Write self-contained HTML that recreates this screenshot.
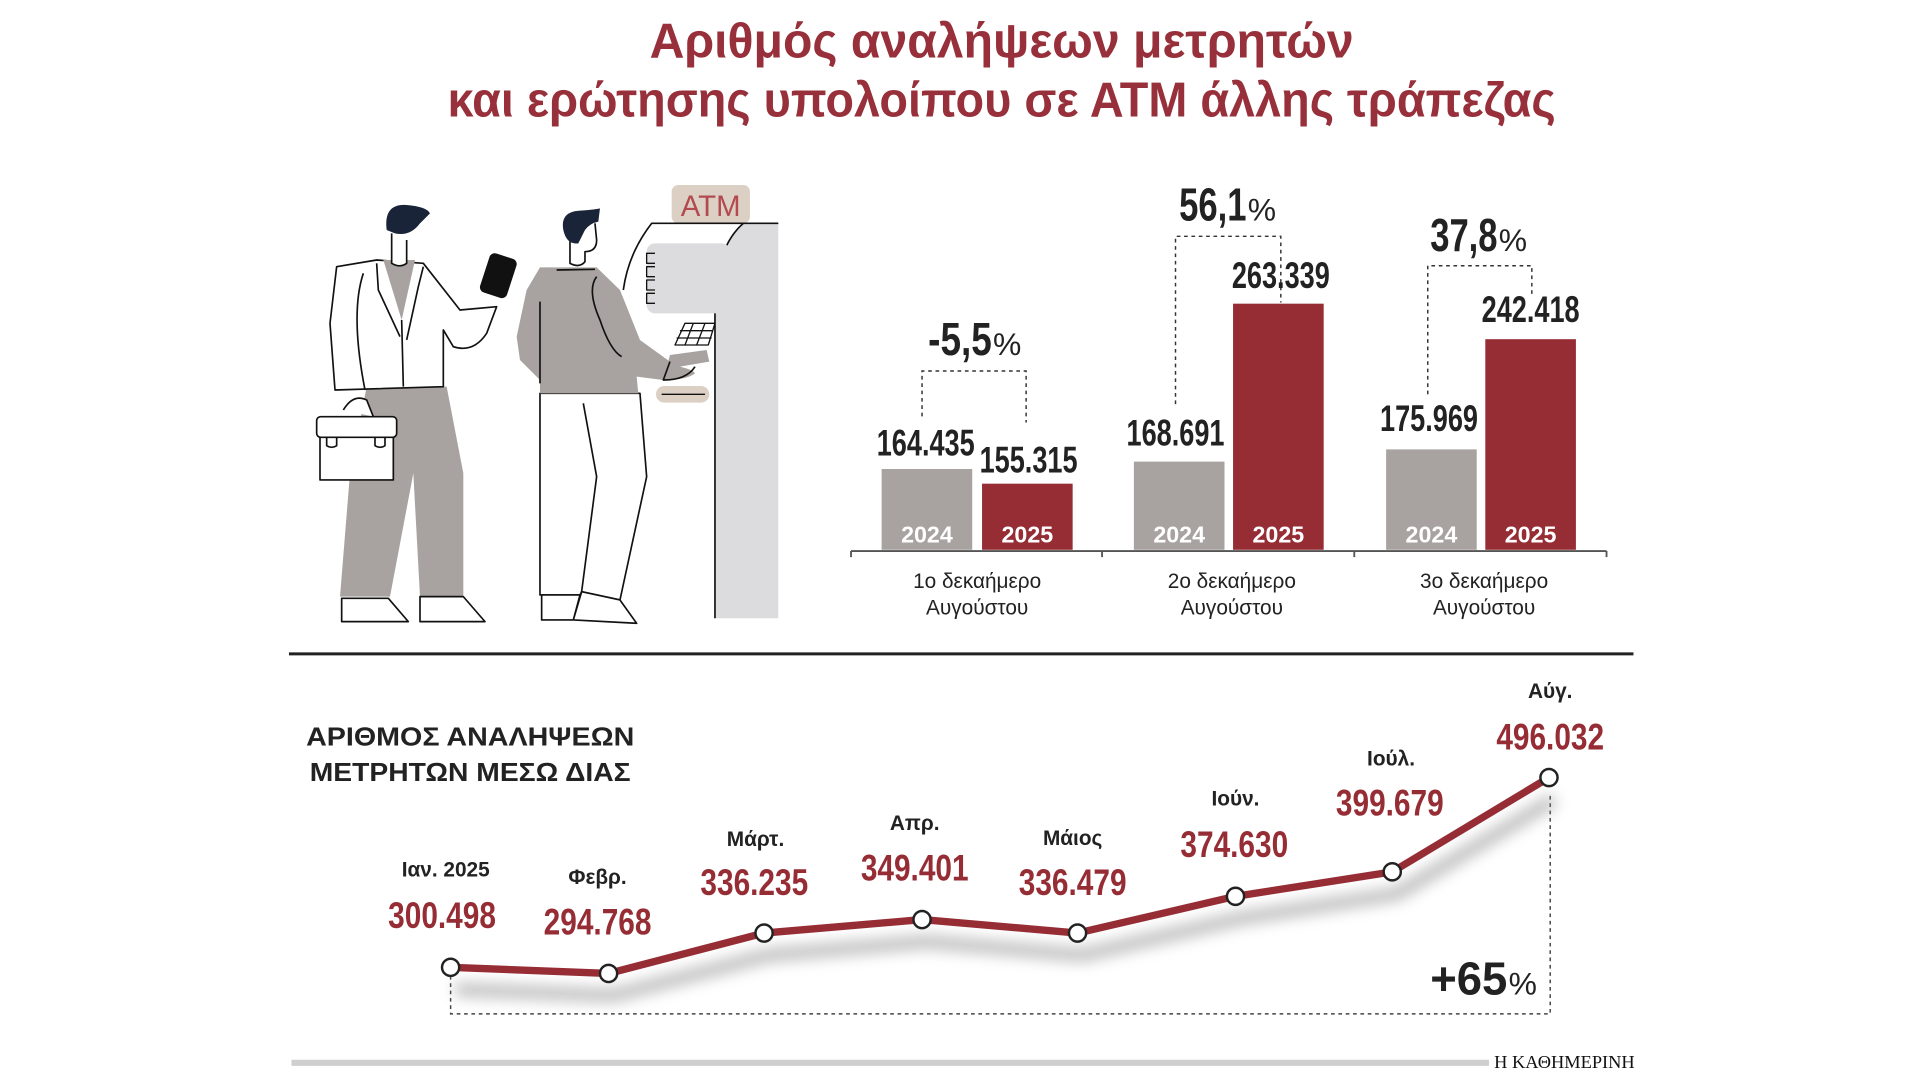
<!DOCTYPE html>
<html><head><meta charset="utf-8"><style>
html,body{margin:0;padding:0;background:#fff;}
svg{display:block}
.t{font-family:"Liberation Sans Narrow","Liberation Sans",sans-serif;font-weight:bold;}
</style></head><body>
<svg width="1920" height="1080" viewBox="0 0 1568 882" xmlns="http://www.w3.org/2000/svg">
<defs>
<filter id="sh" x="-10%" y="-50%" width="120%" height="200%"><feGaussianBlur stdDeviation="6"/></filter>
</defs>
<rect width="1568" height="882" fill="#fff"/>
<!-- Title -->
<g class="t" fill="#97303a" font-size="40" text-anchor="middle">
<text x="818" y="47" textLength="575" lengthAdjust="spacingAndGlyphs">Αριθμός αναλήψεων μετρητών</text>
<text x="818" y="95" textLength="905" lengthAdjust="spacingAndGlyphs">και ερώτησης υπολοίπου σε ΑΤΜ άλλης τράπεζας</text>
</g>

<!-- Illustration -->
<g transform="translate(245,147) scale(0.2722)" stroke="#111" stroke-width="5" stroke-linejoin="round">
<rect x="1115" y="15" width="235" height="115" rx="20" fill="#dcd0c4" stroke="none"/>
<text x="1232" y="108" font-family="Liberation Sans,sans-serif" font-size="88" fill="#b24a50" stroke="none" text-anchor="middle">ATM</text>
<path d="M1330 130 L1435 130 L1435 1315 L1245 1315 L1245 330 Q1260 190 1330 130Z" fill="#dcdcde" stroke="none"/>
<path d="M1435 130 L1055 130 Q985 220 970 330" fill="none"/>
<path d="M1330 130 Q1260 190 1245 330 L1245 1315" fill="none"/>
<rect x="1040" y="190" width="250" height="210" rx="25" fill="#dcdcde" stroke="none"/>
<path d="M1065 220h-25v30h25M1065 260h-25v30h25M1065 300h-25v30h25M1065 340h-25v30h25" fill="none" stroke-width="4"/>
<path d="M1155 430h90l-20 65h-100z M1140 452h100 M1130 474h105 M1180 430l-25 65 M1215 430l-25 65" fill="#fff" stroke-width="4"/>
<rect x="1068" y="618" width="160" height="50" rx="25" fill="#dcd0c4" stroke="none"/>
<path d="M1085 643h130" stroke-width="4"/>
<!-- man 1 -->
<path d="M200 620 L440 620 L490 880 L490 1250 L360 1250 L340 880 L270 1250 L120 1250 L150 880Z" fill="#a8a3a0" stroke="none"/>
<path d="M125 1255h140l60 70h-200z M360 1250h130l65 75h-195z" fill="#fff"/>
<path d="M110 260 L230 240 L370 250 L480 390 L590 380 L560 460 Q520 520 460 500 L430 450 L430 620 L105 630 L90 430 Z" fill="#fff"/>
<path d="M250 240 L345 240 L305 420Z" fill="#a8a3a0" stroke="none"/>
<path d="M305 420 L310 620 M230 250 L235 330 L300 470 M370 260 L355 320 L320 480 M190 280 Q150 400 195 630" fill="none"/>
<path d="M275 160 L275 250 Q300 265 320 250 L320 180" fill="#fff"/>
<path d="M260 150 Q250 70 320 75 Q380 80 390 100 L360 130 Q330 170 285 160Z" fill="#1a2438" stroke="none"/>
<rect x="555" y="228" width="80" height="118" rx="14" transform="rotate(18 595 287)" fill="#111"/>
<path d="M130 690 Q160 640 200 660 L220 710" fill="#fff"/>
<rect x="60" y="745" width="220" height="155" fill="#fff"/>
<rect x="50" y="710" width="240" height="62" rx="12" fill="#fff"/>
<path d="M80 772v25q15 10 30 0v-25 M225 772v25q15 10 30 0v-25" fill="none"/>
<!-- man 2 -->
<path d="M720 640 L1020 640 L1040 890 L960 1260 L845 1235 L840 1245 L720 1245Z" fill="#fff"/>
<path d="M850 670 L890 890 L845 1235" fill="none"/>
<path d="M725 1245h115l-20 75h-95z M845 1235l115 25 l50 70 l-190 -10z" fill="#fff"/>
<path d="M720 262 L890 262 L960 330 L1020 480 L1110 545 L1090 600 L1010 590 L1015 640 L720 640 L720 600 L660 540 L650 470 L680 330Z" fill="#a8a3a0" stroke="none"/>
<path d="M720 365 L720 610 M890 290 Q860 330 900 420 Q930 510 965 530 M770 270 L885 268" fill="none"/>
<path d="M1110 525 L1220 510 L1228 545 L1140 560 Q1180 570 1185 580 Q1160 600 1090 600Z" fill="#a8a3a0" stroke="none"/>
<path d="M1110 545 L1090 600 Q1160 600 1185 560" fill="none"/>
<path d="M810 180 L810 250 Q840 265 855 245 L855 215 Q890 215 890 180 L885 130" fill="#fff"/>
<path d="M790 150 Q780 95 840 92 Q890 88 900 85 L895 125 Q870 130 855 150 L835 190 Q800 195 790 150Z" fill="#1a2438" stroke="none"/>
</g>

<!-- Bar chart -->
<g>
<rect x="720" y="383" width="74" height="66" fill="#a8a3a0"/>
<rect x="802" y="395" width="74" height="54" fill="#962d35"/>
<rect x="926" y="377" width="74" height="72" fill="#a8a3a0"/>
<rect x="1007" y="248" width="74" height="201" fill="#962d35"/>
<rect x="1132" y="367" width="74" height="82" fill="#a8a3a0"/>
<rect x="1213" y="277" width="74" height="172" fill="#962d35"/>
<path d="M695 450H1312 M695 450v5 M900 450v5 M1106 450v5 M1312 450v5" stroke="#555" stroke-width="1.5" fill="none"/>
<g fill="none" stroke="#333" stroke-width="1.2" stroke-dasharray="3,3">
<path d="M753 340V303H838V345"/>
<path d="M960 330V193H1046V247"/>
<path d="M1166 322V217H1251V240"/>
</g>
<g class="t" fill="#fff" font-size="19" text-anchor="middle">
<text x="757" y="443">2024</text><text x="839" y="443">2025</text>
<text x="963" y="443">2024</text><text x="1044" y="443">2025</text>
<text x="1169" y="443">2024</text><text x="1250" y="443">2025</text>
</g>
<g class="t" fill="#222" font-size="30" text-anchor="middle">
<text x="756" y="372" textLength="80" lengthAdjust="spacingAndGlyphs">164.435</text>
<text x="840" y="386" textLength="80" lengthAdjust="spacingAndGlyphs">155.315</text>
<text x="960" y="364" textLength="80" lengthAdjust="spacingAndGlyphs">168.691</text>
<text x="1046" y="235" textLength="80" lengthAdjust="spacingAndGlyphs">263.339</text>
<text x="1167" y="352" textLength="80" lengthAdjust="spacingAndGlyphs">175.969</text>
<text x="1250" y="263" textLength="80" lengthAdjust="spacingAndGlyphs">242.418</text>
</g>
<g class="t" fill="#222" font-size="38">
<text x="758" y="290" textLength="52" lengthAdjust="spacingAndGlyphs">-5,5</text><text x="811" y="290" font-size="26" font-weight="normal">%</text>
<text x="963" y="180" textLength="55" lengthAdjust="spacingAndGlyphs">56,1</text><text x="1019" y="180" font-size="26" font-weight="normal">%</text>
<text x="1168" y="205" textLength="55" lengthAdjust="spacingAndGlyphs">37,8</text><text x="1224" y="205" font-size="26" font-weight="normal">%</text>
</g>
<g font-family="Liberation Sans,sans-serif" fill="#222" font-size="17" text-anchor="middle">
<text x="798" y="480">1ο δεκαήμερο</text><text x="798" y="502">Αυγούστου</text>
<text x="1006" y="480">2ο δεκαήμερο</text><text x="1006" y="502">Αυγούστου</text>
<text x="1212" y="480">3ο δεκαήμερο</text><text x="1212" y="502">Αυγούστου</text>
</g>
</g>

<line x1="236" y1="534" x2="1334" y2="534" stroke="#222" stroke-width="2.5"/>

<!-- Line chart -->
<g class="t" fill="#222" font-size="21">
<text x="250" y="609" textLength="268" lengthAdjust="spacingAndGlyphs">ΑΡΙΘΜΟΣ ΑΝΑΛΗΨΕΩΝ</text>
<text x="253" y="638" textLength="262" lengthAdjust="spacingAndGlyphs">ΜΕΤΡΗΤΩΝ ΜΕΣΩ ΔΙΑΣ</text>
</g>
<path d="M368 797V828H1266V650" fill="none" stroke="#444" stroke-width="1.2" stroke-dasharray="3,3"/>
<polyline points="372,808 501,813 628,780 757,769 884,780 1013,750 1141,730 1269,653" fill="none" stroke="#888" stroke-width="10" opacity="0.6" filter="url(#sh)"/>
<polyline points="368,790 497,795 624,762 753,751 880,762 1009,732 1137,712 1265,635" fill="none" stroke="#962d35" stroke-width="6" stroke-linejoin="round"/>
<g fill="#fff" stroke="#222" stroke-width="2">
<circle cx="368" cy="790" r="7"/><circle cx="497" cy="795" r="7"/><circle cx="624" cy="762" r="7"/><circle cx="753" cy="751" r="7"/>
<circle cx="880" cy="762" r="7"/><circle cx="1009" cy="732" r="7"/><circle cx="1137" cy="712" r="7"/><circle cx="1265" cy="635" r="7"/>
</g>
<g font-family="Liberation Sans,sans-serif" font-weight="bold" fill="#222" font-size="17" text-anchor="middle">
<text x="364" y="716">Ιαν. 2025</text><text x="488" y="722">Φεβρ.</text><text x="617" y="691">Μάρτ.</text><text x="747" y="678">Απρ.</text>
<text x="876" y="690">Μάιος</text><text x="1009" y="658">Ιούν.</text><text x="1136" y="625">Ιούλ.</text><text x="1266" y="570">Αύγ.</text>
</g>
<g class="t" fill="#962d35" font-size="30" text-anchor="middle">
<text x="361" y="758" textLength="88" lengthAdjust="spacingAndGlyphs">300.498</text>
<text x="488" y="763" textLength="88" lengthAdjust="spacingAndGlyphs">294.768</text>
<text x="616" y="731" textLength="88" lengthAdjust="spacingAndGlyphs">336.235</text>
<text x="747" y="719" textLength="88" lengthAdjust="spacingAndGlyphs">349.401</text>
<text x="876" y="731" textLength="88" lengthAdjust="spacingAndGlyphs">336.479</text>
<text x="1008" y="700" textLength="88" lengthAdjust="spacingAndGlyphs">374.630</text>
<text x="1135" y="666" textLength="88" lengthAdjust="spacingAndGlyphs">399.679</text>
<text x="1266" y="612" textLength="88" lengthAdjust="spacingAndGlyphs">496.032</text>
</g>
<g class="t" fill="#222" font-size="38">
<text x="1168" y="812" textLength="63" lengthAdjust="spacingAndGlyphs">+65</text><text x="1232" y="812" font-size="26" font-weight="normal">%</text>
</g>

<line x1="238" y1="868" x2="1216" y2="868" stroke="#cfcfcf" stroke-width="5"/>
<text x="1335" y="872" text-anchor="end" font-family="Liberation Serif,serif" font-size="15" fill="#111">Η ΚΑΘΗΜΕΡΙΝΗ</text>
</svg>
</body></html>
